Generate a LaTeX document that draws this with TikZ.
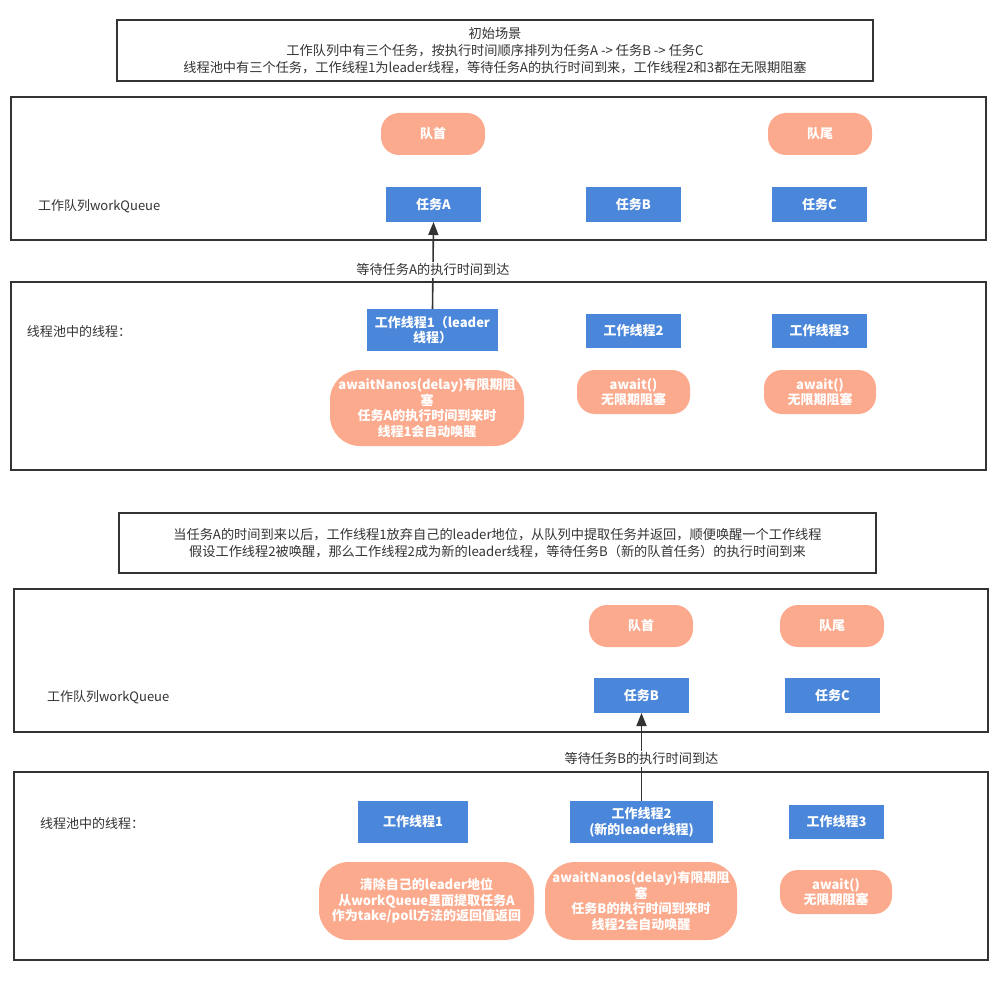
\documentclass[tikz,border=0pt]{standalone}
\usepackage{fontspec}
\setmainfont{Noto Sans CJK SC}
\usetikzlibrary{arrows.meta}
\definecolor{taskblue}{HTML}{4A86D9}
\definecolor{tagorange}{HTML}{FBAA8D}
\definecolor{edgegray}{HTML}{333333}
\begin{document}
\begin{tikzpicture}[x=1pt,y=-1pt,
  every node/.style={inner sep=0pt, outer sep=0pt, text=edgegray},
  note/.style={draw=edgegray, line width=1.6pt, align=center, font=\fontsize{13.2}{17}\selectfont},
  panel/.style={draw=edgegray, line width=1.6pt},
  caption/.style={anchor=west, font=\fontsize{13}{15}\selectfont},
  bluebox/.style={fill=taskblue, text=white, align=center, font=\fontsize{13}{15.5}\selectfont\bfseries},
  pill/.style={fill=tagorange, text=white, align=center, rounded corners=18pt, font=\fontsize{13}{15.5}\selectfont\bfseries},
  bigpill/.style={pill, rounded corners=30pt},
  link/.style={draw=edgegray, line width=1.6pt, -{Triangle[length=13pt,width=10pt]}},
  linklabel/.style={fill=white, inner sep=2pt, font=\fontsize{13.2}{15}\selectfont}
]
\useasboundingbox (0,0) rectangle (1000,1000);
\fill[white] (0,0) rectangle (1000,1000);

% ---------- initial scenario ----------
\node[note, minimum width=756, minimum height=61] (intro) at (495,50.5)
  {初始场景\\工作队列中有三个任务，按执行时间顺序排列为任务A -> 任务B -> 任务C\\线程池中有三个任务，工作线程1为leader线程，等待任务A的执行时间到来，工作线程2和3都在无限期阻塞};

\node[panel, minimum width=975, minimum height=143] (queue1) at (498.5,168.5) {};
\node[caption] (qlabel1) at (38,206) {工作队列workQueue};
\node[pill, minimum width=104, minimum height=42] (head1) at (433,134) {队首};
\node[pill, minimum width=104, minimum height=42] (tail1) at (820,134) {队尾};
\node[bluebox, minimum width=95, minimum height=35] (taskA1) at (433.5,204.5) {任务A};
\node[bluebox, minimum width=95, minimum height=35] (taskB1) at (633.5,204.5) {任务B};
\node[bluebox, minimum width=95, minimum height=35] (taskC1) at (819.5,204.5) {任务C};

\node[panel, minimum width=975, minimum height=188] (pool1) at (498.5,376) {};
\node[caption] (plabel1) at (27,332) {线程池中的线程：};
\node[bluebox, minimum width=131, minimum height=42] (w1a) at (432.5,330) {工作线程1（leader\\线程）};
\node[bluebox, minimum width=95, minimum height=34] (w2a) at (633.5,331) {工作线程2};
\node[bluebox, minimum width=95, minimum height=34] (w3a) at (819.5,331) {工作线程3};
\node[bigpill, minimum width=194, minimum height=76] (s1a) at (427,408)
  {awaitNanos(delay)有限期阻\\塞\\任务A的执行时间到来时\\线程1会自动唤醒};
\node[pill, minimum width=113, minimum height=44] (s2a) at (633.5,392) {await()\\无限期阻塞};
\node[pill, minimum width=112, minimum height=44] (s3a) at (820,392) {await()\\无限期阻塞};

\draw[link] (w1a.north) -- node[linklabel, pos=0.45] (wait1) {等待任务A的执行时间到达} (taskA1.south);

% ---------- after task A expires ----------
\node[note, minimum width=757, minimum height=60] (later) at (497.5,543)
  {当任务A的时间到来以后，工作线程1放弃自己的leader地位，从队列中提取任务并返回，顺便唤醒一个工作线程\\假设工作线程2被唤醒，那么工作线程2成为新的leader线程，等待任务B（新的队首任务）的执行时间到来};

\node[panel, minimum width=974, minimum height=143] (queue2) at (501,660.5) {};
\node[caption] (qlabel2) at (47,697) {工作队列workQueue};
\node[pill, minimum width=104, minimum height=42] (head2) at (641,626) {队首};
\node[pill, minimum width=104, minimum height=42] (tail2) at (832,626) {队尾};
\node[bluebox, minimum width=95, minimum height=35] (taskB2) at (641.5,695.5) {任务B};
\node[bluebox, minimum width=95, minimum height=35] (taskC2) at (832.5,695.5) {任务C};

\node[panel, minimum width=974, minimum height=188] (pool2) at (501,866) {};
\node[caption] (plabel2) at (40,824) {线程池中的线程：};
\node[bluebox, minimum width=110, minimum height=42] (w1b) at (413,822) {工作线程1};
\node[bluebox, minimum width=143, minimum height=42] (w2b) at (641.5,822) {工作线程2\\(新的leader线程)};
\node[bluebox, minimum width=95, minimum height=34] (w3b) at (836.5,822) {工作线程3};
\node[bigpill, minimum width=215, minimum height=78] (s1b) at (426.5,901)
  {清除自己的leader地位\\从workQueue里面提取任务A\\作为take/poll方法的返回值返回};
\node[bigpill, minimum width=192, minimum height=78] (s2b) at (641,901)
  {awaitNanos(delay)有限期阻\\塞\\任务B的执行时间到来时\\线程2会自动唤醒};
\node[pill, minimum width=112, minimum height=44] (s3b) at (836,892) {await()\\无限期阻塞};

\draw[link] (w2b.north) -- node[linklabel, pos=0.48] (wait2) {等待任务B的执行时间到达} (taskB2.south);
\end{tikzpicture}
\end{document}
